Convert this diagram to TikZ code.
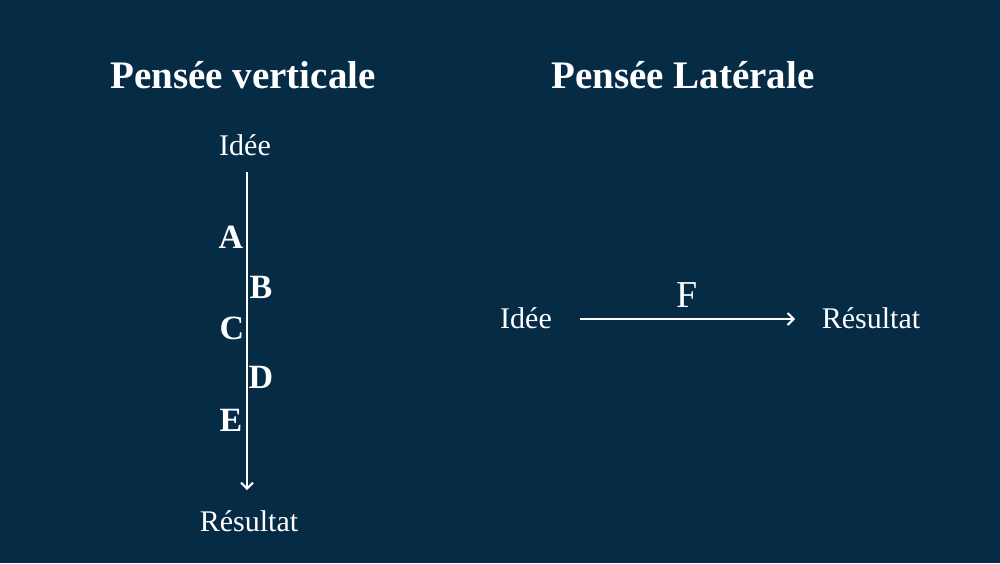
\documentclass[tikz,border=0pt]{standalone}
\usepackage{fontspec}
\setmainfont{Liberation Serif}
\usetikzlibrary{arrows.meta,positioning}
\definecolor{fond}{RGB}{5,43,69}
\begin{document}
\begin{tikzpicture}[x=0.5pt,y=-0.5pt] % 1 unit = 1 px of the reference
\tikzset{titre/.style={text=white,font=\fontsize{19.5}{21}\selectfont\bfseries}}
\tikzset{etiq/.style={text=white,font=\fontsize{15}{17}\selectfont}}
\tikzset{lettre/.style={text=white,font=\fontsize{17}{19}\selectfont\bfseries}}
\tikzset{fleche/.style={white,line width=1pt,-{Straight Barb[length=3pt,width=6pt]}}}
\fill[fond] (0,0) rectangle (1000,563);
\useasboundingbox (0,0) rectangle (1000,563);
% vertical
\node[titre] (t1) at (243,75) {Pensée verticale};
\node[etiq] (i1) at (245,145) {Idée};
\node[etiq] (r1) at (249,521) {Résultat};
\coordinate (haut) at (247,172);
\coordinate (bas) at (247,490);
\draw[fleche] (haut) -- (bas);
\node[lettre] (a) at (231,237) {A};
\node[lettre] (b) at (261,287) {B};
\node[lettre] (c) at (232,328) {C};
\node[lettre] (d) at (261,377) {D};
\node[lettre] (e) at (231,420) {E};
% laterale
\node[titre] (t2) at (683,75) {Pensée Latérale};
\node[etiq] (i2) at (526,318) {Idée};
\node[etiq] (r2) at (871,318) {Résultat};
\coordinate (gauche) at (580,319);
\coordinate (droite) at (795,319);
\draw[fleche] (gauche) -- (droite);
\node[lettre,font=\fontsize{19}{21}\selectfont] (f) at (687,295) {F};
\end{tikzpicture}
\end{document}
